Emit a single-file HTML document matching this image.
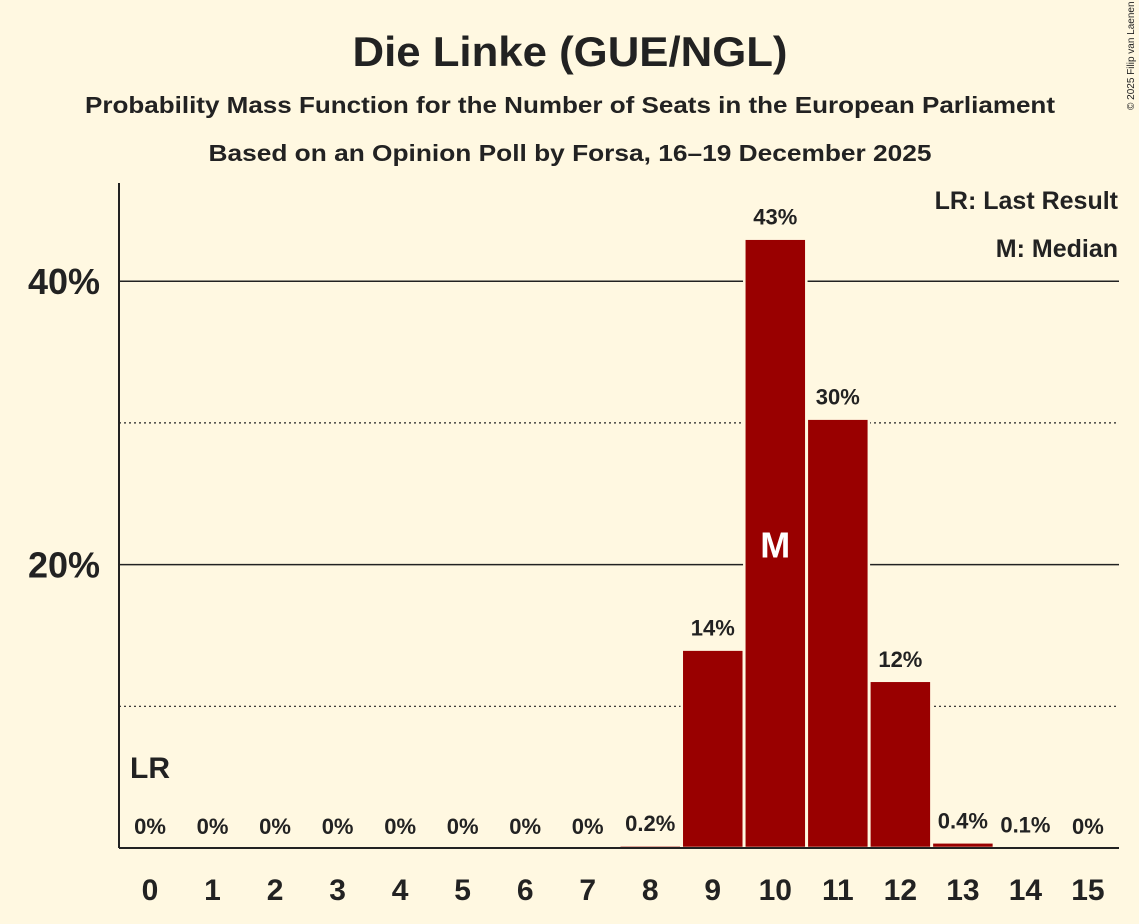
<!DOCTYPE html>
<html><head><meta charset="utf-8"><style>
body{margin:0;background:#fff8e1;}
svg{display:block;font-family:"Liberation Sans",sans-serif;}
</style></head><body>
<svg id="chart" width="1139" height="924">
<rect width="1139" height="924" fill="#fff8e1"/>
<text x="570" y="66" text-anchor="middle" font-size="42" font-weight="bold" fill="#222" textLength="435" lengthAdjust="spacingAndGlyphs">Die Linke (GUE/NGL)</text>
<text x="570" y="113" text-anchor="middle" font-size="23" font-weight="bold" fill="#222" textLength="970" lengthAdjust="spacingAndGlyphs">Probability Mass Function for the Number of Seats in the European Parliament</text>
<text x="570" y="161" text-anchor="middle" font-size="23" font-weight="bold" fill="#222" textLength="723" lengthAdjust="spacingAndGlyphs">Based on an Opinion Poll by Forsa, 16–19 December 2025</text>
<text x="1134" y="110" font-size="10" fill="#222" transform="rotate(-90 1134 110)">© 2025 Filip van Laenen</text>
<g id="grid"></g>
<g id="bars"></g>
<g id="labels"></g>
<line x1="119" y1="183" x2="119" y2="848" stroke="#222" stroke-width="2"/>
<line x1="119" y1="848" x2="1119" y2="848" stroke="#222" stroke-width="2"/>
<text x="1118" y="209" text-anchor="end" font-size="25" font-weight="bold" fill="#222">LR: Last Result</text>
<text x="1118" y="257" text-anchor="end" font-size="25" font-weight="bold" fill="#222">M: Median</text>
</svg>
<script>
const categories=[0,1,2,3,4,5,6,7,8,9,10,11,12,13,14,15];
const values=[0,0,0,0,0,0,0,0,0.2,14,43,30.3,11.8,0.4,0.1,0];
const valueLabels=["0%","0%","0%","0%","0%","0%","0%","0%","0.2%","14%","43%","30%","12%","0.4%","0.1%","0%"];
const yTicks=[20,40];
const yMinor=[10,30];
const yTickLabels=["20%","40%"];
const lastResult=0, median=10;
const NS="http://www.w3.org/2000/svg";
const x=c=>150+(c-categories[0])*62.53;
const y=v=>848-v*14.17;
function mk(tag,attrs,parent){const e=document.createElementNS(NS,tag);for(const k in attrs)e.setAttribute(k,attrs[k]);document.getElementById(parent).appendChild(e);return e;}
yMinor.forEach(v=>{const l=mk('line',{x1:119,x2:1119,y1:y(v),y2:y(v),stroke:'#222','stroke-width':1.2,'stroke-dasharray':'2,3'},'grid');

});
yTicks.forEach((v,i)=>{const l=mk('line',{x1:119,x2:1119,y1:y(v),y2:y(v),stroke:'#222','stroke-width':1.5},'grid');


const t=mk('text',{x:100,y:y(v)+13,'text-anchor':'end','font-size':36,'font-weight':'bold',fill:'#222'},'grid');t.textContent=yTickLabels[i];

});
categories.forEach((c,i)=>{const v=values[i];
if(v>0){const r=mk('rect',{x:x(c)-31,y:y(v),width:62,height:848-y(v),fill:'#990000',stroke:'#fff8e1','stroke-width':2.5},'bars');

}
const t=mk('text',{x:x(c),y:Math.min(y(v),848)-14,'text-anchor':'middle','font-size':22,'font-weight':'bold',fill:'#222'},'labels');t.textContent=valueLabels[i];


const xt=mk('text',{x:x(c),y:900,'text-anchor':'middle','font-size':30,'font-weight':'bold',fill:'#222'},'labels');xt.textContent=c;

});
const lr=mk('text',{x:x(lastResult),y:778,'text-anchor':'middle','font-size':30,'font-weight':'bold',fill:'#222'},'labels');lr.textContent='LR';


const m=mk('text',{x:x(median),y:(y(values[median])+848)/2+14,'text-anchor':'middle','font-size':36,'font-weight':'bold',fill:'#fff'},'labels');m.textContent='M';


</script>
</body></html>
